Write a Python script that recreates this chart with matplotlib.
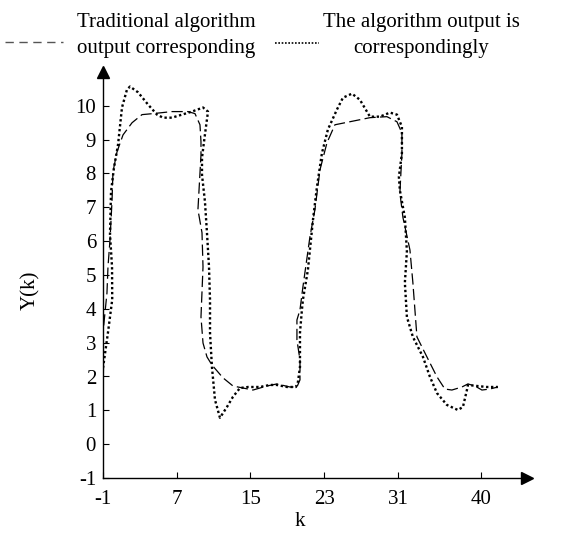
import matplotlib
matplotlib.use("Agg")
import matplotlib.pyplot as plt
from matplotlib.lines import Line2D

plt.rcParams["font.family"] = ["Liberation Serif", "DejaVu Serif"]
plt.rcParams["axes.unicode_minus"] = False

# traditional algorithm output (dashed) as (k, Y(k))
trad_k = [-1.00, -0.95, -1.00, -0.57, -0.46, -0.24, -0.02, 0.08, 0.52, 1.17,
          2.15, 3.23, 4.42, 6.48, 8.22, 8.98, 9.52, 9.63, 9.63, 9.30, 9.74,
          9.85, 9.63, 9.85, 10.28, 10.82, 12.02, 13.10, 14.18, 15.27, 16.79,
          17.87, 19.28, 20.04, 20.37, 20.37, 20.04, 20.04, 20.37, 20.69, 21.45,
          21.99, 22.54, 23.30, 24.16, 25.79, 27.96, 29.80, 30.89, 31.43, 31.43,
          31.21, 31.54, 32.30, 32.62, 33.06, 34.14, 35.23, 36.09, 36.85, 37.94,
          38.59, 39.35, 40.11, 40.97, 41.84]
trad_y = [1.20, 2.30, 3.30, 4.47, 5.24, 6.04, 7.20, 8.05, 8.64, 9.14,
          9.50, 9.74, 9.77, 9.83, 9.83, 9.77, 9.44, 8.94, 8.55, 6.93, 6.25,
          5.24, 3.76, 2.99, 2.58, 2.34, 1.96, 1.72, 1.66, 1.60, 1.72,
          1.78, 1.69, 1.69, 1.90, 2.49, 3.08, 3.67, 3.97, 4.65, 6.13,
          6.93, 8.11, 8.91, 9.44, 9.53, 9.65, 9.68, 9.53, 9.20, 8.60,
          7.43, 6.70, 5.74, 4.77, 3.17, 2.58, 1.99, 1.63, 1.60, 1.69,
          1.78, 1.72, 1.60, 1.63, 1.69]

# proposed algorithm output (dotted)
prop_k = [-1.00, -0.46, 0.00, -0.02, -0.24, -0.13, 0.19, 0.63, 1.06, 1.60,
          1.93, 2.80, 3.88, 4.86, 5.51, 6.48, 7.57, 8.65, 9.85, 10.39, 10.06,
          9.74, 9.74, 10.06, 10.28, 10.50, 10.61, 10.61, 10.82, 11.15, 11.69,
          12.45, 13.10, 13.86, 14.73, 16.03, 17.11, 17.87, 18.96, 19.93, 20.15,
          20.37, 20.37, 20.58, 20.69, 21.23, 21.78, 22.21, 22.75, 23.40, 24.38,
          25.03, 26.01, 26.87, 27.96, 29.04, 30.13, 30.89, 31.43, 31.43, 31.10,
          31.21, 31.75, 31.97, 31.75, 31.97, 32.62, 33.71, 34.47, 35.23, 36.31,
          37.50, 38.05, 38.48, 38.59, 39.56, 40.65, 41.84]
prop_y = [2.25, 3.30, 4.27, 5.24, 6.20, 7.46, 8.17, 8.85, 9.95, 10.48,
          10.57, 10.40, 10.04, 9.74, 9.65, 9.65, 9.74, 9.83, 9.95, 9.83, 9.15,
          8.47, 7.96, 7.17, 6.25, 5.24, 4.27, 3.29, 2.28, 1.31, 0.78,
          1.10, 1.40, 1.66, 1.69, 1.69, 1.75, 1.75, 1.69, 1.69, 1.84,
          2.28, 3.29, 3.97, 4.27, 5.15, 6.63, 7.60, 8.60, 9.30, 9.89,
          10.24, 10.36, 10.18, 9.68, 9.68, 9.80, 9.74, 9.38, 8.60, 7.90,
          7.50, 6.70, 5.70, 4.77, 3.76, 3.17, 2.58, 1.99, 1.51, 1.16,
          1.01, 1.10, 1.60, 1.75, 1.72, 1.69, 1.69]

x_ticks = [-1, 7, 15, 23, 31, 40]
y_ticks = list(range(-1, 11))

legend_trad = "Traditional algorithm\noutput corresponding"
legend_prop = "The algorithm output is\ncorrespondingly"

W, H = 561, 533
FS = 15
fig = plt.figure(figsize=(W / 100, H / 100), dpi=100)
ax = fig.add_axes([103 / W, 1 - 478 / H, (527 - 103) / W, (478 - 72) / H])

ax.plot(trad_k, trad_y, color="black", lw=0.9, ls=(0, (9, 3.5)))
ax.plot(prop_k, prop_y, color="black", lw=1.7, ls=(0, (1, 1.1)))

ax.set_xlim(-1, 45)
ax.set_ylim(-1, 11)
for s in ("top", "right"):
    ax.spines[s].set_visible(False)
for s in ("left", "bottom"):
    ax.spines[s].set_linewidth(1.0)
ax.plot([1], [0], marker=">", ms=9, color="black", transform=ax.transAxes, clip_on=False)
ax.plot([0], [1], marker="^", ms=9, color="black", transform=ax.transAxes, clip_on=False)

ax.set_xticks(x_ticks)
ax.set_yticks(y_ticks)
ax.tick_params(direction="in", length=4.5, width=0.8, labelsize=FS)
ax.tick_params(axis="x", pad=9)
ax.tick_params(axis="y", pad=5)

fig.text(300 / W, 1 - 521 / H, "k", ha="center", va="center", fontsize=FS)
fig.text(31 / W, 1 - 290 / H, "Y(k)", ha="center", va="center", fontsize=FS, rotation=90)

# legend, laid out as in the picture
fig.add_artist(Line2D([5 / W, 63 / W], [1 - 42 / H] * 2, color="#555555", lw=1.0,
                      ls=(0, (6, 4))))
fig.add_artist(Line2D([275 / W, 319 / W], [1 - 43 / H] * 2, color="black", lw=1.2,
                      ls=(0, (1, 1))))
fig.text(77 / W, 1 - 35 / H, legend_trad, ha="left", va="center", fontsize=FS,
         linespacing=1.5)
fig.text(421 / W, 1 - 35 / H, legend_prop, ha="center", va="center", fontsize=FS,
         linespacing=1.5)

fig.savefig("out.png", dpi=100, facecolor="white")
